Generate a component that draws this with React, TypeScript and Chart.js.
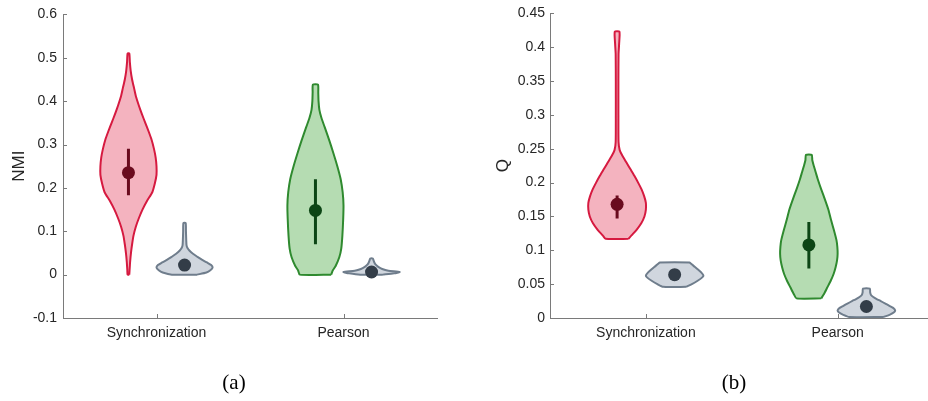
import React, { useEffect, useRef } from "react";
import { Chart, registerables } from "chart.js";

Chart.register(...registerables);

// ---------- data ----------
const categories = ["Synchronization", "Pearson"];
const nmiTicks = [-0.1, 0, 0.1, 0.2, 0.3, 0.4, 0.5, 0.6];
const qTicks = [0, 0.05, 0.1, 0.15, 0.2, 0.25, 0.3, 0.35, 0.4, 0.45];

// Panel (a) NMI — Synchronization (real)
const nmiSyncLevels = [0, 0.01, 0.03, 0.05, 0.07, 0.09, 0.11, 0.13, 0.15, 0.17, 0.19, 0.21, 0.23, 0.25, 0.27, 0.29, 0.31, 0.33, 0.35, 0.37, 0.39, 0.41, 0.43, 0.45, 0.47, 0.49, 0.51];
const nmiSyncDensity = [0.03, 0.04, 0.06, 0.09, 0.13, 0.18, 0.26, 0.37, 0.5, 0.66, 0.85, 0.94, 1.0, 1.0, 0.97, 0.91, 0.83, 0.72, 0.6, 0.48, 0.37, 0.27, 0.2, 0.13, 0.08, 0.05, 0.03];
const nmiSyncMedian = 0.235;
const nmiSyncIqr = [0.183, 0.29];
// Panel (a) NMI — Synchronization (null model)
const nmiSyncNullLevels = [0, 0.005, 0.01, 0.016, 0.022, 0.028, 0.034, 0.041, 0.048, 0.055, 0.062, 0.068, 0.08, 0.1, 0.119];
const nmiSyncNullDensity = [0.45, 0.78, 0.92, 1.0, 0.95, 0.8, 0.63, 0.46, 0.3, 0.18, 0.1, 0.07, 0.06, 0.05, 0.04];
const nmiSyncNullMedian = 0.022;
const nmiSyncNullIqr = [0.014, 0.033];
// Panel (a) NMI — Pearson (real)
const nmiPearLevels = [0, 0.01, 0.02, 0.04, 0.06, 0.09, 0.13, 0.16, 0.19, 0.22, 0.25, 0.28, 0.31, 0.34, 0.36, 0.38, 0.4, 0.42, 0.438];
const nmiPearDensity = [0.56, 0.62, 0.72, 0.85, 0.92, 0.96, 0.99, 1.0, 0.97, 0.9, 0.78, 0.64, 0.49, 0.33, 0.22, 0.14, 0.11, 0.1, 0.09];
const nmiPearMedian = 0.148;
const nmiPearIqr = [0.07, 0.22];
// Panel (a) NMI — Pearson (null model)
const nmiPearNullLevels = [0, 0.003, 0.006, 0.009, 0.013, 0.018, 0.023, 0.028, 0.033, 0.037];
const nmiPearNullDensity = [0.4, 0.8, 1.0, 0.6, 0.38, 0.24, 0.15, 0.1, 0.07, 0.05];
const nmiPearNullMedian = 0.006;
const nmiPearNullIqr = [0.002, 0.012];

// Panel (b) Q — Synchronization (real)
const qSyncLevels = [0.117, 0.122, 0.13, 0.14, 0.15, 0.16, 0.17, 0.18, 0.19, 0.2, 0.21, 0.22, 0.23, 0.24, 0.248, 0.26, 0.3, 0.35, 0.39, 0.405, 0.423];
const qSyncDensity = [0.4, 0.5, 0.67, 0.84, 0.95, 1.0, 1.0, 0.94, 0.85, 0.73, 0.6, 0.46, 0.32, 0.18, 0.09, 0.05, 0.045, 0.045, 0.05, 0.07, 0.08];
const qSyncMedian = 0.168;
const qSyncIqr = [0.147, 0.181];
// Panel (b) Q — Synchronization (null model)
const qSyncNullLevels = [0.046, 0.05, 0.055, 0.06, 0.063, 0.067, 0.072, 0.077, 0.081, 0.082];
const qSyncNullDensity = [0.4, 0.6, 0.8, 0.96, 1.0, 0.93, 0.8, 0.66, 0.55, 0.52];
const qSyncNullMedian = 0.064;
const qSyncNullIqr = [0.06, 0.068];
// Panel (b) Q — Pearson (real)
const qPearLevels = [0.029, 0.035, 0.045, 0.055, 0.065, 0.075, 0.085, 0.095, 0.105, 0.115, 0.13, 0.145, 0.16, 0.175, 0.19, 0.205, 0.215, 0.225, 0.233, 0.241];
const qPearDensity = [0.43, 0.52, 0.64, 0.76, 0.86, 0.93, 0.98, 1.0, 0.99, 0.96, 0.87, 0.77, 0.68, 0.56, 0.43, 0.31, 0.24, 0.17, 0.12, 0.1];
const qPearMedian = 0.108;
const qPearIqr = [0.073, 0.142];
// Panel (b) Q — Pearson (null model)
const qPearNullLevels = [0.0015, 0.005, 0.008, 0.0114, 0.015, 0.018, 0.0213, 0.025, 0.028, 0.031, 0.034, 0.038, 0.0435];
const qPearNullDensity = [0.6, 0.82, 0.95, 1.0, 0.93, 0.8, 0.66, 0.5, 0.36, 0.24, 0.16, 0.13, 0.12];
const qPearNullMedian = 0.017;
const qPearNullIqr = [0.012, 0.022];

// ---------- styles ----------
const RED = { border: "#d61a40", fill: "rgba(236,128,148,0.6)", dot: "#6a0b1e" };
const GREEN = { border: "#2f8a2f", fill: "rgba(150,205,145,0.7)", dot: "#0c4515" };
const GRAY = { border: "#6f7d8c", fill: "rgba(200,207,216,0.85)", dot: "#333d48" };
const AXIS = "#7a7a7a";
const TEXT = "#262626";
const HALF_WIDTH = 0.15;
const OFFSET = 0.15;

type Violin = {
  cat: number;
  side: number;
  levels: number[];
  density: number[];
  median: number;
  iqr: number[];
  style: { border: string; fill: string; dot: string };
};

const panelA: Violin[] = [
  { cat: 1, side: -1, levels: nmiSyncLevels, density: nmiSyncDensity, median: nmiSyncMedian, iqr: nmiSyncIqr, style: RED },
  { cat: 1, side: 1, levels: nmiSyncNullLevels, density: nmiSyncNullDensity, median: nmiSyncNullMedian, iqr: nmiSyncNullIqr, style: GRAY },
  { cat: 2, side: -1, levels: nmiPearLevels, density: nmiPearDensity, median: nmiPearMedian, iqr: nmiPearIqr, style: GREEN },
  { cat: 2, side: 1, levels: nmiPearNullLevels, density: nmiPearNullDensity, median: nmiPearNullMedian, iqr: nmiPearNullIqr, style: GRAY },
];
const panelB: Violin[] = [
  { cat: 1, side: -1, levels: qSyncLevels, density: qSyncDensity, median: qSyncMedian, iqr: qSyncIqr, style: RED },
  { cat: 1, side: 1, levels: qSyncNullLevels, density: qSyncNullDensity, median: qSyncNullMedian, iqr: qSyncNullIqr, style: GRAY },
  { cat: 2, side: -1, levels: qPearLevels, density: qPearDensity, median: qPearMedian, iqr: qPearIqr, style: GREEN },
  { cat: 2, side: 1, levels: qPearNullLevels, density: qPearNullDensity, median: qPearNullMedian, iqr: qPearNullIqr, style: GRAY },
];

function buildDatasets(violins: Violin[]) {
  const ds: any[] = [];
  violins.forEach((v) => {
    const c = v.cat + v.side * OFFSET;
    const right = v.levels.map((y, i) => ({ x: c + v.density[i] * HALF_WIDTH, y }));
    const left = v.levels.map((y, i) => ({ x: c - v.density[i] * HALF_WIDTH, y })).reverse();
    ds.push({
      type: "line",
      data: [...right, ...left, right[0]],
      borderColor: v.style.border,
      backgroundColor: v.style.fill,
      borderWidth: 2,
      borderJoinStyle: "round",
      fill: "shape",
      pointRadius: 0,
      tension: 0.2,
      order: 3,
    });
    ds.push({
      type: "line",
      data: [
        { x: c, y: v.iqr[0] },
        { x: c, y: v.iqr[1] },
      ],
      borderColor: v.style.dot,
      borderWidth: 3,
      pointRadius: 0,
      fill: false,
      order: 2,
    });
    ds.push({
      type: "line",
      data: [{ x: c, y: v.median }],
      showLine: false,
      pointRadius: 6.5,
      pointBorderWidth: 0,
      pointBackgroundColor: v.style.dot,
      order: 1,
    });
  });
  return ds;
}

const inwardTicks = {
  id: "inwardTicks",
  beforeDatasetsDraw(chart: any) {
    const { ctx, chartArea, scales } = chart;
    ctx.save();
    ctx.strokeStyle = AXIS;
    ctx.lineWidth = 1;
    ctx.beginPath();
    scales.y.ticks.forEach((t: any) => {
      const y = Math.round(scales.y.getPixelForValue(t.value)) + 0.5;
      ctx.moveTo(chartArea.left, y);
      ctx.lineTo(chartArea.left + 4, y);
    });
    scales.x.ticks.forEach((t: any) => {
      const x = Math.round(scales.x.getPixelForValue(t.value)) + 0.5;
      ctx.moveTo(x, chartArea.bottom);
      ctx.lineTo(x, chartArea.bottom - 4);
    });
    ctx.stroke();
    ctx.restore();
  },
};

function makeConfig(
  violins: Violin[],
  yTicks: number[],
  yTitle: string,
  yWidth: number,
  titlePad: number,
  labelPad: number,
  rightPad: number
): any {
  return {
    type: "line",
    data: { datasets: buildDatasets(violins) },
    plugins: [inwardTicks],
    options: {
      animation: false,
      responsive: false,
      devicePixelRatio: 1,
      events: [],
      layout: { padding: { left: 0, right: rightPad, top: 13, bottom: 0 } },
      plugins: { legend: { display: false }, tooltip: { enabled: false } },
      scales: {
        x: {
          type: "linear",
          min: 0.5,
          max: 2.5,
          grid: { display: false, drawTicks: false },
          border: { display: true, color: AXIS, width: 1 },
          afterBuildTicks: (s: any) => {
            s.ticks = categories.map((_, i) => ({ value: i + 1 }));
          },
          afterFit: (s: any) => {
            s.height = 83;
          },
          ticks: {
            padding: 7,
            color: TEXT,
            maxRotation: 0,
            font: { family: "'Liberation Sans', Arial, sans-serif", size: 14 },
            callback: (v: number) => categories[Math.round(v) - 1],
          },
        },
        y: {
          type: "linear",
          min: yTicks[0],
          max: yTicks[yTicks.length - 1],
          grid: { display: false, drawTicks: false },
          border: { display: true, color: AXIS, width: 1 },
          afterBuildTicks: (s: any) => {
            s.ticks = yTicks.map((v) => ({ value: v }));
          },
          afterFit: (s: any) => {
            s.width = yWidth;
          },
          ticks: {
            padding: labelPad,
            color: TEXT,
            font: { family: "'Liberation Sans', Arial, sans-serif", size: 14 },
            callback: (v: number) => String(Math.round(v * 1000) / 1000),
          },
          title: {
            display: true,
            text: yTitle,
            color: TEXT,
            padding: { top: titlePad, bottom: 0 },
            font: { family: "'Liberation Sans', Arial, sans-serif", size: 17 },
          },
        },
      },
    },
  };
}

function Panel({ config, width, left, visibleWidth }: any) {
  const ref = useRef<HTMLCanvasElement | null>(null);
  useEffect(() => {
    if (!ref.current) return;
    const chart = new Chart(ref.current, config);
    return () => chart.destroy();
  }, []);
  return (
    <div style={{ position: "absolute", left, top: 0, width: visibleWidth, height: 401, overflow: "hidden" }}>
      <canvas ref={ref} width={width} height={401} style={{ display: "block", width, height: 401 }} />
    </div>
  );
}

const captionStyle: React.CSSProperties = {
  position: "absolute",
  top: 372,
  width: 100,
  textAlign: "center",
  fontFamily: "'Liberation Serif', 'Times New Roman', serif",
  fontSize: 21,
  lineHeight: "21px",
  color: "#000",
};

export default function App() {
  const cfgA = makeConfig(panelA, nmiTicks, "NMI", 63, 9, 6, 27);
  const cfgB = makeConfig(panelB, qTicks, "Q", 86, 29, 5, 0);
  return (
    <div style={{ position: "absolute", left: 0, top: 0, width: 928, height: 401, background: "#fff", overflow: "hidden" }}>
      <Panel config={cfgA} width={464} left={0} visibleWidth={464} />
      <Panel config={cfgB} width={476} left={464} visibleWidth={464} />
      <div style={{ ...captionStyle, left: 184 }}>(a)</div>
      <div style={{ ...captionStyle, left: 684 }}>(b)</div>
    </div>
  );
}
